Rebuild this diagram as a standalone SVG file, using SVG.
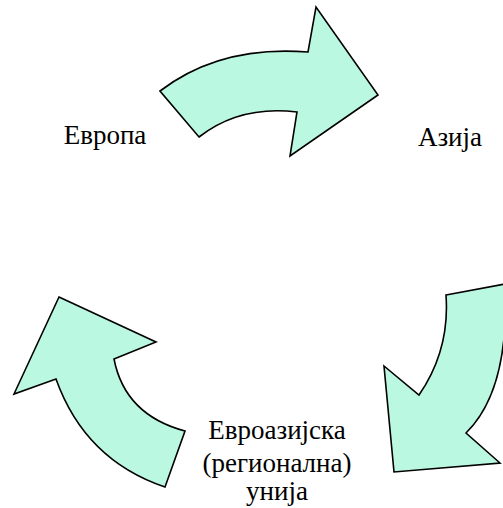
<svg xmlns="http://www.w3.org/2000/svg" width="503" height="508" viewBox="0 0 503 508">
<style>
.arrow{fill:#bbf8e1;stroke:#000;stroke-width:1.6;stroke-linejoin:miter}
.lbl{font-size:27px;fill:#000;text-anchor:middle}
</style>
<rect width="503" height="508" fill="#fff"/>
<g id="connectors">
<path id="arrow-top" class="arrow" d="M160,91 Q220,45 308,52 L316,7 L378,95 L290,156 L297,112 Q240,105 199,137 Z"/>
<path id="arrow-right" class="arrow" d="M446,295 L505,284 Q510,390 466,433 L500,463 L394,472 L384,366 L419,395 Q450,350 446,295 Z"/>
<path id="arrow-left" class="arrow" d="M59,297 L156,342 L114,359 Q125,415 185,431 L165,487 Q85,460 56,379 L14,394 Z"/>
</g>
<g id="node-evropa"><text class="lbl" font-family="'Liberation Serif', 'Times New Roman', serif" x="105" y="144">Европа</text></g>
<g id="node-azija"><text class="lbl" font-family="'Liberation Serif', 'Times New Roman', serif" x="450" y="146">Азија</text></g>
<g id="node-evroazijska" font-family="'Liberation Serif', 'Times New Roman', serif"><text class="lbl" x="277" y="439">Евроазијска</text><text class="lbl" x="277" y="472">(регионална)</text><text class="lbl" x="277" y="500">унија</text></g>
</svg>
